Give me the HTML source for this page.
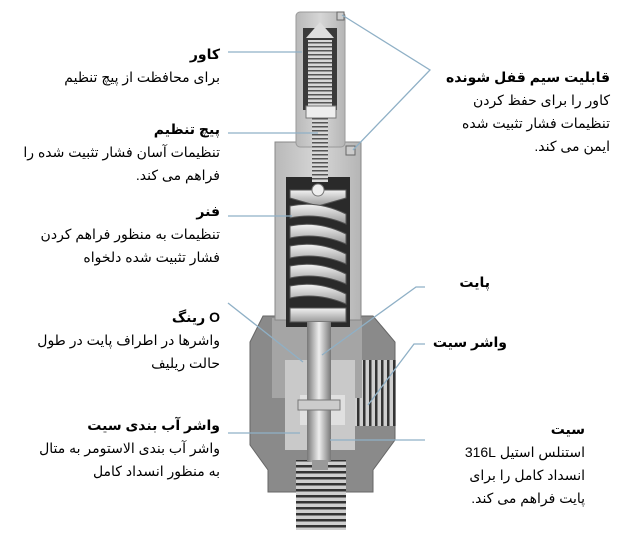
<!DOCTYPE html>
<html><head><meta charset="utf-8"><style>
html,body{margin:0;padding:0;background:#fff;}
body{width:627px;height:540px;position:relative;overflow:hidden;font-family:"Liberation Sans","DejaVu Sans",sans-serif;color:#000;}
.t{position:absolute;direction:rtl;text-align:right;font-size:14px;line-height:23px;white-space:nowrap;}
.t b{font-size:14px;}
svg{position:absolute;left:0;top:0;}
</style></head><body>
<svg width="627" height="540" viewBox="0 0 627 540">
<defs>
<linearGradient id="cap" x1="0" x2="1"><stop offset="0" stop-color="#b9b9b9"/><stop offset="0.5" stop-color="#d6d6d6"/><stop offset="1" stop-color="#b5b5b5"/></linearGradient>
<linearGradient id="rod" x1="0" x2="1"><stop offset="0" stop-color="#777"/><stop offset="0.5" stop-color="#eee"/><stop offset="1" stop-color="#777"/></linearGradient>
<linearGradient id="coil" x1="0" x2="0" y1="0" y2="1"><stop offset="0" stop-color="#f2f2f2"/><stop offset="1" stop-color="#9a9a9a"/></linearGradient>
<pattern id="thr" width="6" height="4" patternUnits="userSpaceOnUse"><rect width="6" height="4" fill="#d8d8d8"/><rect y="2" width="6" height="1.5" fill="#555"/></pattern>
<pattern id="thr2" width="6" height="6" patternUnits="userSpaceOnUse"><rect width="6" height="6" fill="#cfcfcf"/><rect y="3" width="6" height="2.5" fill="#333"/></pattern>
<pattern id="thrv" width="6" height="6" patternUnits="userSpaceOnUse"><rect width="6" height="6" fill="#cfcfcf"/><rect x="3" width="2.5" height="6" fill="#333"/></pattern>
</defs>
<!-- lower body -->
<polygon points="263,316 373,316 395,342 395,440 373,470 373,492 268,492 268,470 250,445 250,342" fill="#8a8a8a" stroke="#666"/>
<rect x="352" y="360" width="44" height="66" fill="url(#thrv)"/>
<rect x="296" y="460" width="50" height="70" fill="url(#thr2)"/>
<rect x="272" y="318" width="90" height="80" fill="#a5a5a5"/>
<rect x="285" y="360" width="70" height="90" fill="#c9c9c9"/>
<rect x="300" y="395" width="45" height="30" fill="#e0e0e0"/>
<!-- upper body -->
<rect x="275" y="142" width="86" height="178" fill="url(#cap)" stroke="#888"/>
<rect x="286" y="177" width="64" height="150" fill="#2a2a2a"/>
<!-- spring -->
<g fill="url(#coil)" stroke="#555" stroke-width="1">
<polygon points="290,190 346,190 346,198 318,206 290,198"/>
<path d="M290,206 Q318,200 346,214 L346,224 Q318,212 290,218Z"/>
<path d="M290,226 Q318,220 346,234 L346,244 Q318,232 290,238Z"/>
<path d="M290,246 Q318,240 346,254 L346,264 Q318,252 290,258Z"/>
<path d="M290,266 Q318,260 346,274 L346,284 Q318,272 290,278Z"/>
<path d="M290,286 Q318,280 346,294 L346,304 Q318,292 290,298Z"/>
<rect x="290" y="308" width="56" height="14"/>
</g>
<circle cx="318" cy="190" r="6" fill="#eee" stroke="#777"/>
<!-- pilot -->
<rect x="307" y="322" width="24" height="140" fill="url(#rod)"/>
<rect x="298" y="400" width="42" height="10" fill="#ccc" stroke="#777"/>
<rect x="312" y="460" width="16" height="10" fill="#999"/>
<!-- cap -->
<rect x="296" y="12" width="49" height="135" rx="4" fill="url(#cap)" stroke="#999"/>
<rect x="303" y="28" width="34" height="82" fill="#3a3a3a"/>
<polygon points="306,38 320,22 334,38" fill="#ddd"/>
<rect x="308" y="40" width="24" height="66" fill="url(#thr)"/>
<rect x="306" y="106" width="30" height="12" fill="#eee" stroke="#777"/>
<rect x="312" y="118" width="16" height="64" fill="url(#thr)"/>
<rect x="337" y="12" width="7" height="8" fill="#ccc" stroke="#666"/>
<rect x="346" y="146" width="9" height="9" fill="#ccc" stroke="#666"/>
<!-- connectors -->
<g stroke="#8fb0c6" stroke-width="1.3" fill="none">
<line x1="228" y1="52" x2="302" y2="52"/>
<line x1="228" y1="133" x2="318" y2="133"/>
<line x1="228" y1="216" x2="292" y2="216"/>
<line x1="228" y1="303" x2="303" y2="362"/>
<line x1="228" y1="433" x2="300" y2="433"/>
<polyline points="342,15 430,70 353,150"/>
<polyline points="425,287 416,287 322,355"/>
<polyline points="425,344 414,344 368,405"/>
<line x1="425" y1="440" x2="330" y2="440"/>
</g>
</svg>
<div class="t" style="right:407px;top:43px"><b>کاور</b><br>برای محافظت از پیچ تنظیم</div>
<div class="t" style="right:407px;top:118px"><b>پیچ تنظیم</b><br>تنظیمات آسان فشار تثبیت شده را<br>فراهم می کند.</div>
<div class="t" style="right:407px;top:200px"><b>فنر</b><br>تنظیمات به منظور فراهم کردن<br>فشار تثبیت شده دلخواه</div>
<div class="t" style="right:407px;top:306px"><b>O رینگ</b><br>واشرها در اطراف پایت در طول<br>حالت ریلیف</div>
<div class="t" style="right:407px;top:414px"><b>واشر آب بندی سیت</b><br>واشر آب بندی الاستومر به متال<br>به منظور انسداد کامل</div>
<div class="t" style="right:17px;top:66px"><b>قابلیت سیم قفل شونده</b><br>کاور را برای حفظ کردن<br>تنظیمات فشار تثبیت شده<br>ایمن می کند.</div>
<div class="t" style="right:137px;top:271px"><b>پایت</b></div>
<div class="t" style="right:120px;top:331px"><b>واشر سیت</b></div>
<div class="t" style="right:42px;top:418px"><b>سیت</b><br>استنلس استیل 316L<br>انسداد کامل را برای<br>پایت فراهم می کند.</div>
</body></html>
